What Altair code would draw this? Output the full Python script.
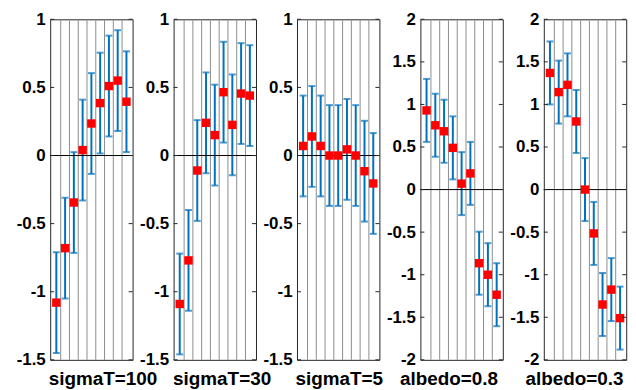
import altair as alt
import pandas as pd

# ---------------- data ----------------
x_idx = [1, 2, 3, 4, 5, 6, 7, 8, 9]
titles = ["sigmaT=100", "sigmaT=30", "sigmaT=5", "albedo=0.8", "albedo=0.3"]

y_sigma100 = [-1.08, -0.68, -0.345, 0.04, 0.235, 0.385, 0.51, 0.55, 0.395]
y_sigma30 = [-1.09, -0.77, -0.11, 0.24, 0.15, 0.465, 0.225, 0.455, 0.44]
y_sigma5 = [0.07, 0.14, 0.07, 0.0, 0.0, 0.045, 0.0, -0.115, -0.205]
y_albedo08 = [0.93, 0.755, 0.685, 0.49, 0.07, 0.19, -0.865, -1.0, -1.235]
y_albedo03 = [1.37, 1.145, 1.23, 0.80, 0.0, -0.515, -1.35, -1.175, -1.51]

e_sigma100 = [0.37, 0.37, 0.37, 0.37, 0.37, 0.37, 0.37, 0.37, 0.37]
e_sigma30 = [0.37, 0.37, 0.37, 0.37, 0.37, 0.37, 0.37, 0.37, 0.37]
e_sigma5 = [0.37, 0.37, 0.37, 0.37, 0.37, 0.37, 0.37, 0.37, 0.37]
e_albedo08 = [0.37, 0.37, 0.37, 0.37, 0.37, 0.37, 0.37, 0.37, 0.37]
e_albedo03 = [0.37, 0.37, 0.37, 0.37, 0.37, 0.37, 0.37, 0.37, 0.37]

y_series = [y_sigma100, y_sigma30, y_sigma5, y_albedo08, y_albedo03]
e_series = [e_sigma100, e_sigma30, e_sigma5, e_albedo08, e_albedo03]

ticks_small = [-1.5, -1, -0.5, 0, 0.5, 1]
ticks_big = [-2, -1.5, -1, -0.5, 0, 0.5, 1, 1.5, 2]
y_domains = [[-1.5, 1], [-1.5, 1], [-1.5, 1], [-2, 2], [-2, 2]]
y_ticks = [ticks_small, ticks_small, ticks_small, ticks_big, ticks_big]
grid_x = [1.5, 2.5, 3.5, 4.5, 5.5, 6.5, 7.5, 8.5]
x_domain = [0.3, 9.7]
title_dx = [-2, -1, -2, -21, -19]

# ---------------- style ----------------
W, H = 83, 343
AX = "#262626"
BLUE = "#0072BD"
FONT = "Liberation Sans"


def panel(i):
    ys = y_series[i]
    es = e_series[i]
    df = pd.DataFrame({
        "x": x_idx,
        "y": ys,
        "lo": [v - e for v, e in zip(ys, es)],
        "hi": [v + e for v, e in zip(ys, es)],
    })
    xs = alt.Scale(domain=x_domain, nice=False, zero=False)
    ysc = alt.Scale(domain=y_domains[i], nice=False, zero=False)
    xaxis = alt.Axis(
        labels=False, ticks=False, domain=False, grid=False,
        title=titles[i], titleFont=FONT, titleFontSize=19, titleFontWeight="bold",
        titleColor="#000000", titleAlign="left", titleAnchor="start",
        titleX=title_dx[i], titleY=25, titleBaseline="alphabetic",
    )
    yaxis = alt.Axis(
        values=y_ticks[i], labelExpr="datum.value + ''", ticks=False, tickSize=0,
        domain=False, grid=False, labelFont=FONT, labelFontSize=17,
        labelFontWeight="bold", labelColor="#000000", labelPadding=5, title=None,
    )
    X = lambda f: alt.X(f, scale=xs, axis=xaxis)
    Y = lambda f: alt.Y(f, scale=ysc, axis=yaxis)

    gdf = pd.DataFrame({"g": grid_x})
    grid = alt.Chart(gdf).mark_rule(color="#8c8c8c", strokeWidth=1).encode(x=X("g:Q"))
    base = alt.Chart(df)
    bars = base.mark_rule(color=BLUE, strokeWidth=2).encode(
        x=X("x:Q"), y=Y("lo:Q"), y2="hi:Q"
    )
    cap_lo = base.mark_tick(color=BLUE, orient="horizontal", size=7, thickness=2).encode(
        x=X("x:Q"), y=Y("lo:Q")
    )
    cap_hi = base.mark_tick(color=BLUE, orient="horizontal", size=7, thickness=2).encode(
        x=X("x:Q"), y=Y("hi:Q")
    )
    zero = alt.Chart(pd.DataFrame({"z": [0]})).mark_rule(color="#000000", strokeWidth=1).encode(
        y=Y("z:Q")
    )
    pts = base.mark_square(size=72, color="#FF0000", opacity=1).encode(
        x=X("x:Q"), y=Y("y:Q")
    )
    tdf = pd.DataFrame({"t": y_ticks[i]})
    tl = alt.Chart(tdf).mark_rule(color=AX, strokeWidth=1).encode(
        y=Y("t:Q"), x=alt.value(0), x2=alt.value(4)
    )
    tr = alt.Chart(tdf).mark_rule(color=AX, strokeWidth=1).encode(
        y=Y("t:Q"), x=alt.value(W - 4), x2=alt.value(W)
    )
    return alt.layer(grid, bars, cap_lo, cap_hi, zero, pts, tl, tr).properties(width=W, height=H)


chart = alt.hconcat(
    *[panel(i) for i in range(5)], spacing=41.3, bounds="flush"
).configure_view(
    stroke=AX, strokeWidth=1
).properties(
    padding={"left": 7.5, "top": 0, "right": 0, "bottom": 0}
)

chart.save("out.html", embed_options={"renderer": "svg", "actions": False})
